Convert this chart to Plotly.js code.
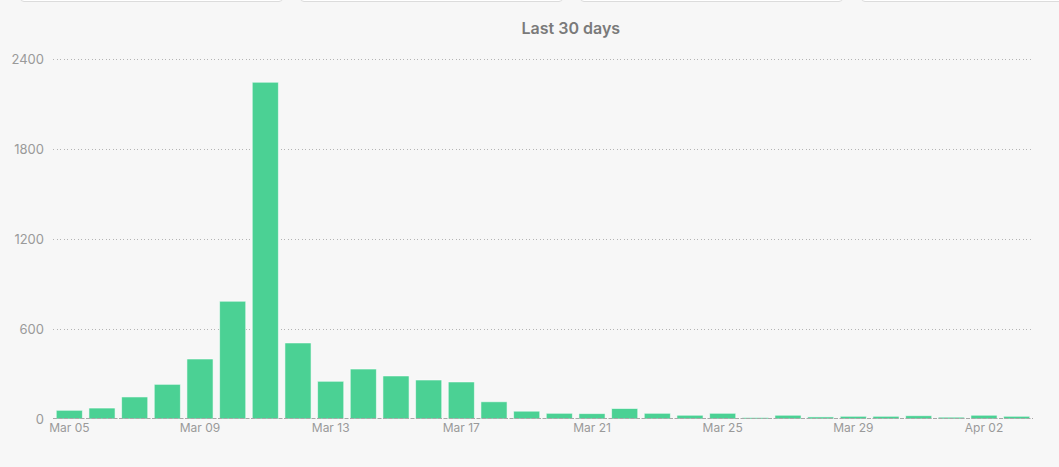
<!DOCTYPE html>
<html>
<head>
<meta charset="utf-8">
<script src="https://cdn.plot.ly/plotly-3.0.1.min.js"></script>
<style>
  html, body { margin:0; padding:0; background:#f7f7f7; width:1059px; height:467px; overflow:hidden; font-family:Inter, Roboto, sans-serif; }
  .card { position:absolute; top:-10px; height:12px; background:#fff; border:1px solid #dcdcdc; border-radius:4px; box-sizing:border-box; }
  #chart { position:absolute; left:0; top:0; width:1059px; height:467px; }
</style>
</head>
<body>
<div id="chart"></div>
<div class="card" style="left:20px;width:263px;"></div>
<div class="card" style="left:300px;width:263px;"></div>
<div class="card" style="left:580px;width:263px;"></div>
<div class="card" style="left:861px;width:220px;"></div>
<script>
const dates = [
  '2020-03-05','2020-03-06','2020-03-07','2020-03-08','2020-03-09','2020-03-10',
  '2020-03-11','2020-03-12','2020-03-13','2020-03-14','2020-03-15','2020-03-16',
  '2020-03-17','2020-03-18','2020-03-19','2020-03-20','2020-03-21','2020-03-22',
  '2020-03-23','2020-03-24','2020-03-25','2020-03-26','2020-03-27','2020-03-28',
  '2020-03-29','2020-03-30','2020-03-31','2020-04-01','2020-04-02','2020-04-03'
];
const counts = [
  58, 73, 147, 231, 400, 785,
  2245, 507, 251, 333, 287, 260,
  247, 115, 52, 38, 36, 70,
  38, 25, 38, 10, 25, 14,
  18, 18, 22, 12, 25, 18
];
const yTicks = [0, 600, 1200, 1800, 2400];
const titleText = 'Last 30 days';

Plotly.newPlot('chart', [{
  type: 'bar',
  x: dates,
  y: counts,
  marker: { color: '#4bd194', line: { color: 'rgba(255,255,255,0.55)', width: 1 } },
  hoverinfo: 'x+y'
}], {
  width: 1059, height: 467,
  paper_bgcolor: '#f7f7f7', plot_bgcolor: '#f7f7f7',
  margin: { l: 53, r: 26, t: 56, b: 48 },
  bargap: 0.2,
  showlegend: false,
  title: { text: titleText, x: 0.539, xanchor: 'center', y: 0.94, yanchor: 'middle',
           font: { family: 'Inter, Roboto, sans-serif', size: 16, color: '#7a7a7a', weight: 600 } },
  xaxis: {
    type: 'date',
    range: ['2020-03-04 12:00', '2020-04-03 12:00'],
    tick0: '2020-03-05', dtick: 4 * 86400000,
    tickformat: '%b %d',
    showgrid: false, zeroline: false, showline: false,
    ticks: '', ticklen: 0,
    tickfont: { family: 'Inter, Roboto, sans-serif', size: 12, color: '#9a9a9a' },
    fixedrange: true
  },
  yaxis: {
    range: [0, 2420],
    tickvals: yTicks,
    ticktext: yTicks.map(String),
    showgrid: true, gridcolor: '#b4b4b4', gridwidth: 1, griddash: '1px,2.5px',
    zeroline: false, showline: false,
    ticks: '', ticklen: 0, ticklabelstandoff: 8,
    tickfont: { family: 'Inter, Roboto, sans-serif', size: 13, color: '#9a9a9a' },
    fixedrange: true
  },
  shapes: [{
    type: 'line', xref: 'paper', yref: 'y', x0: 0, x1: 1, y0: 0, y1: 0,
    line: { color: '#a8a8a8', width: 2, dash: '4px,1.5px' }, layer: 'above'
  }]
}, { displayModeBar: false, staticPlot: true });
</script>
</body>
</html>
